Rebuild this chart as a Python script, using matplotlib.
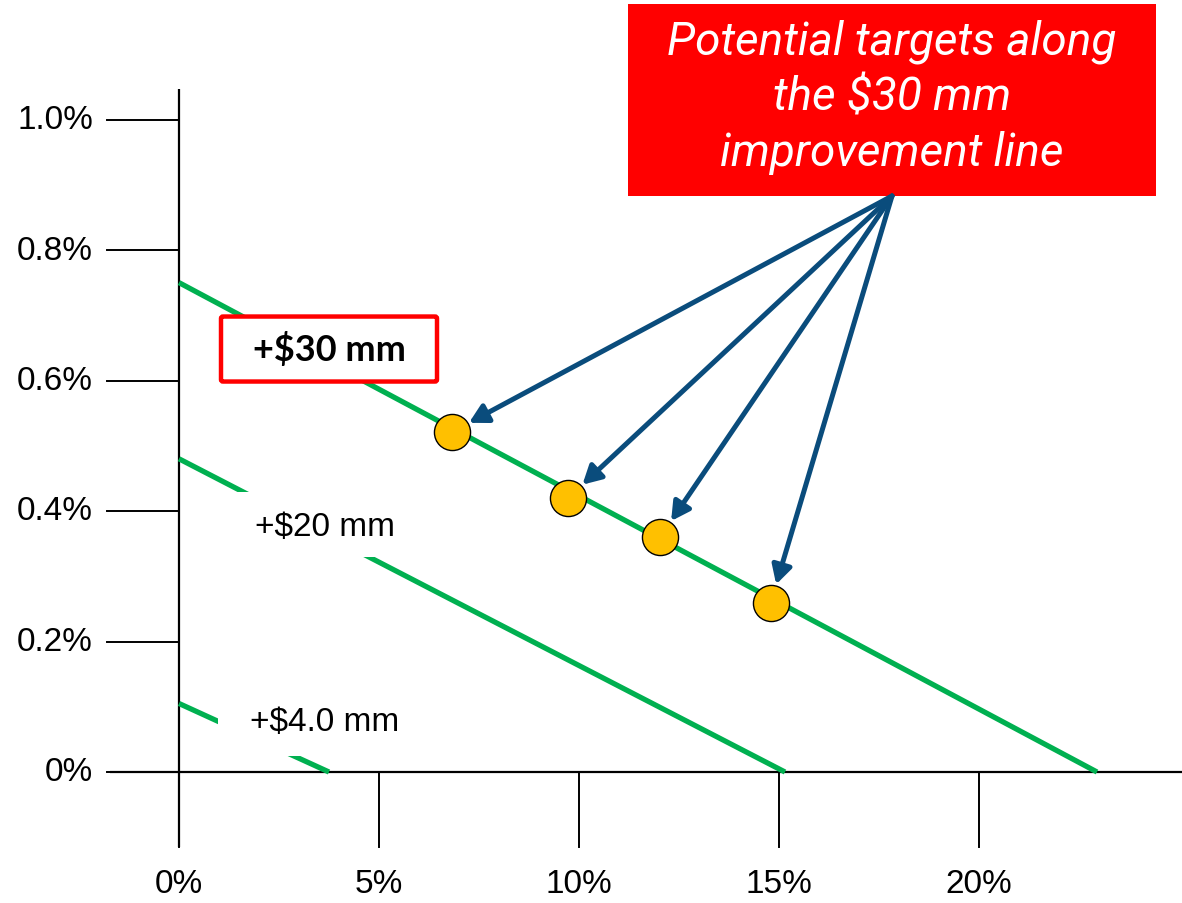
import numpy as np
import matplotlib
matplotlib.use("Agg")
import matplotlib.pyplot as plt
from matplotlib.patches import Rectangle, FancyBboxPatch

# axis ticks (percent)
x_ticks = [0, 5, 10, 15, 20]
y_ticks = [0.0, 0.2, 0.4, 0.6, 0.8, 1.0]
x_tick_labels = ["0%", "5%", "10%", "15%", "20%"]
y_tick_labels = ["0%", "0.2%", "0.4%", "0.6%", "0.8%", "1.0%"]

# iso-improvement lines: y at x=0 and x at y=0
line_names = ["+$30 mm", "+$20 mm", "+$4.0 mm"]
line_y0 = [0.75, 0.48, 0.105]
line_x0 = [22.95, 15.15, 3.75]

# candidate targets on the $30 mm line
target_x = [6.82, 9.73, 12.03, 14.79]
target_y = [0.521, 0.420, 0.360, 0.259]

GREEN = "#00B050"
NAVY = "#0A4C7C"
RED = "#FF0000"
GOLD = "#FFC000"
FONT = "Liberation Sans"

W, H = 1182, 904
fig = plt.figure(figsize=(W / 100, H / 100), dpi=100)
ax = fig.add_axes([0, 0, 1, 1])
ax.set_axis_off()

# pixel <-> data: 40 px per 1% on x, 652.5 px per 1% on y
X0, Y0, SX, SY = 179, 773, 40.0, 652.5
ax.set_xlim(-X0 / SX, (W - X0) / SX)
ax.set_ylim(-(H - Y0) / SY, Y0 / SY)


def px(n):
    return n / SX


def py(n):
    return n / SY


# axes lines
ax.plot([px(110 - X0), (W - X0) / SX], [0, 0], color="black", lw=1.6, solid_capstyle="butt")
ax.plot([0, 0], [py(-75), py(Y0 - 90)], color="black", lw=1.6, solid_capstyle="butt")

# y ticks and labels
for v, lab in zip(y_ticks, y_tick_labels):
    ax.plot([px(-72), 0], [v, v], color="black", lw=1.4)
    ax.text(px(-86), v, lab, ha="right", va="center", fontsize=24,
            family=FONT, color="black")

# x ticks and labels
for v, lab in zip(x_ticks, x_tick_labels):
    ax.plot([v, v], [0, py(-75)], color="black", lw=1.4)
    ax.text(v, py(-112), lab, ha="center", va="center", fontsize=24,
            family=FONT, color="black")

# green iso lines
for y0, x0 in zip(line_y0, line_x0):
    ax.plot([0, x0], [y0, 0], color=GREEN, lw=3.8, solid_capstyle="butt", zorder=2)

# labels on the lines; boxes given as (left, right, top, bottom) px around the text
lab_pos = [(3.75, 0.649), (3.65, 0.377), (3.65, 0.077)]
lab_box = [(-108, 108, -32, 33), (-92, 88, -34, 31), (-107, 95, -33, 34)]
for i, (name, (lx, ly), (l, r, t, b)) in enumerate(zip(line_names, lab_pos, lab_box)):
    x_lo, y_lo = lx + px(l), ly - py(b)
    bw, bh = px(r - l), py(b - t)
    if i == 0:
        box = FancyBboxPatch((x_lo, y_lo), bw, bh,
                             boxstyle="round,pad=0,rounding_size=0.05",
                             fc="white", ec=RED, lw=3.2, zorder=4,
                             mutation_aspect=SX / SY)
        ax.add_patch(box)
        ax.text(lx, ly, name, ha="center", va="center", fontsize=26,
                family="Lato", fontweight="bold", zorder=5)
    else:
        ax.add_patch(Rectangle((x_lo, y_lo), bw, bh, fc="white", ec="none", zorder=3))
        ax.text(lx, ly, name, ha="center", va="center", fontsize=24,
                family=FONT, zorder=5)

# callout box
bx0, bx1, by0, by1 = px(628 - X0), px(1156 - X0), py(Y0 - 197), py(Y0 - 5)
ax.add_patch(Rectangle((bx0, by0), bx1 - bx0, by1 - by0, fc=RED, ec="none", zorder=4))
ax.text((bx0 + bx1) / 2, (by0 + by1) / 2 + py(4),
        "Potential targets along\nthe $30 mm\nimprovement line",
        ha="center", va="center", color="white", fontsize=33, style="italic",
        family="Roboto", linespacing=1.33, zorder=5)

# arrows from the callout to each target
src = ((bx0 + bx1) / 2, by0)
for tx, ty in zip(target_x, target_y):
    ax.annotate("", xy=(tx, ty), xytext=src,
                arrowprops=dict(arrowstyle="-|>,head_length=1.1,head_width=0.6",
                                color=NAVY, lw=3.6, shrinkA=0, shrinkB=14),
                zorder=6)

# target markers
ax.plot(target_x, target_y, "o", ms=26, mfc=GOLD, mec="black", mew=1.0, zorder=7)

fig.savefig("out.png", dpi=100)
